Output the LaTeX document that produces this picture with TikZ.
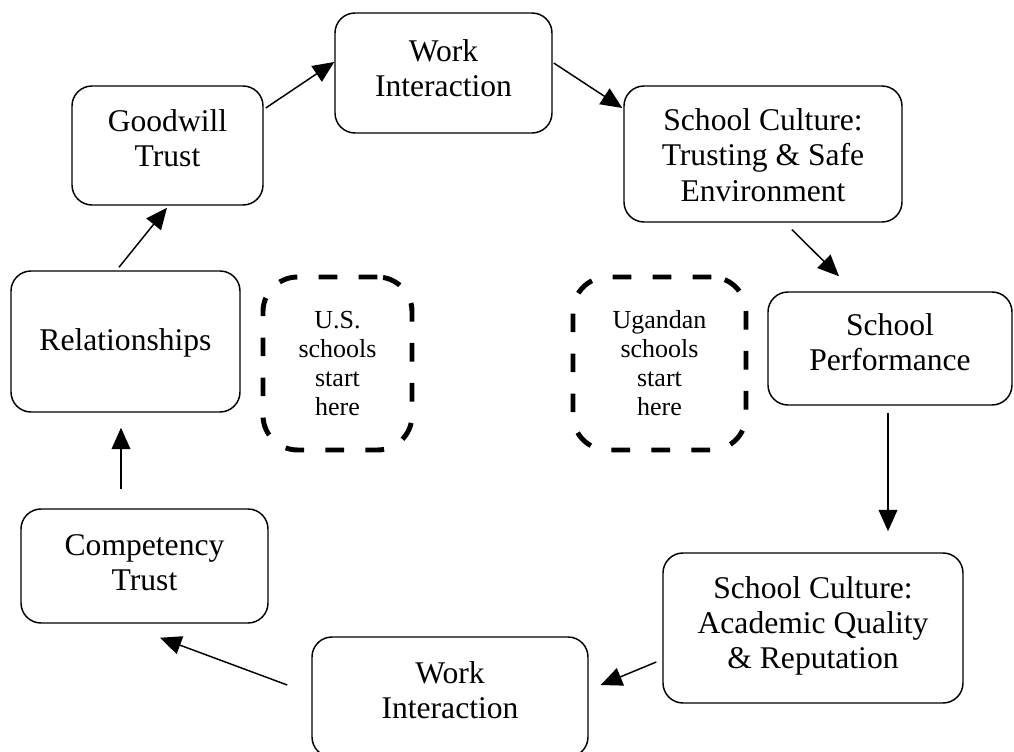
\documentclass[tikz,border=0pt]{standalone}
\usepackage{fontspec}
\setmainfont{Liberation Serif}
\usetikzlibrary{arrows.meta,calc}
\tikzset{
  box/.style={draw, line width=1.1pt, rounded corners=15pt, inner sep=0pt},
  boxtext/.style={align=center, inner sep=0pt, font=\fontsize{23.7}{26.5}\selectfont},
  startbox/.style={draw, line width=3.7pt, rounded corners=26pt, align=center, inner sep=0pt,
    dash pattern=on 14pt off 16pt, font=\fontsize{19.5}{21.75}\selectfont},
  arr/.style={line width=1.1pt, -{Triangle[length=16pt,width=14pt]}}
}
\begin{document}
\begin{tikzpicture}[x=0.75pt,y=-0.75pt]
\useasboundingbox (0,0) rectangle (1014,752);
\node[box, minimum width=217*0.75pt, minimum height=120*0.75pt] (work1) at (443.5,73) {};
\node[boxtext] (work1t) at ($(work1)+(0,-5)$) {Work\\Interaction};
\node[box, minimum width=191*0.75pt, minimum height=119*0.75pt] (good) at (167.5,145.5) {};
\node[boxtext] (goodt) at ($(good)+(0,-7)$) {Goodwill\\Trust};
\node[box, minimum width=278*0.75pt, minimum height=136*0.75pt] (cult1) at (763,154) {};
\node[boxtext] (cult1t) at ($(cult1)+(0,1)$) {School Culture:\\Trusting \& Safe\\Environment};
\node[box, minimum width=244*0.75pt, minimum height=113*0.75pt] (perf) at (890,348.5) {};
\node[boxtext] (perft) at ($(perf)+(0,-6.5)$) {School\\Performance};
\node[box, minimum width=300*0.75pt, minimum height=150*0.75pt] (acad) at (813,628) {};
\node[boxtext] (acadt) at ($(acad)+(0,-2)$) {School Culture:\\Academic Quality\\\& Reputation};
\node[box, minimum width=276*0.75pt, minimum height=120*0.75pt] (work2) at (450,697) {};
\node[boxtext] (work2t) at ($(work2)+(0,-7)$) {Work\\Interaction};
\node[box, minimum width=247*0.75pt, minimum height=114*0.75pt] (comp) at (144.5,566) {};
\node[boxtext] (compt) at ($(comp)+(0,-3.5)$) {Competency\\Trust};
\node[box, minimum width=229*0.75pt, minimum height=141*0.75pt] (rel) at (125.5,341.5) {};
\node[boxtext] (relt) at ($(rel)+(0,1)$) {Relationships};
\node[startbox, minimum width=149*0.75pt, minimum height=173*0.75pt] (us) at (337.5,363.5) {U.S.\\schools\\start\\here};
\node[startbox, minimum width=173*0.75pt, minimum height=173*0.75pt] (ug) at (659.5,363.5) {Ugandan\\schools\\start\\here};

\draw[arr] ($(rel.north)+(-6.5,-3)$) -- ($(good.south)+(-0.5,2)$);
\draw[arr] ($(good.east)+(2,-37.5)$) -- ($(work1.west)+(0,-11)$);
\draw[arr] ($(work1.east)+(1,-10)$) -- ($(cult1.west)+(-1,-46)$);
\draw[arr] ($(cult1.south)+(29,7)$) -- ($(perf.north)+(-51,-15)$);
\draw[arr] ($(perf.south)+(-2,7)$) -- ($(acad.north)+(75,-21)$);
\draw[arr] ($(acad.west)+(-6,34)$) -- ($(work2.east)+(12,-12)$);
\draw[arr] ($(work2.west)+(-24,-12)$) -- ($(comp.south)+(15.5,14)$);
\draw[arr] ($(comp.north)+(-23.5,-19)$) -- ($(rel.south)+(-4.5,15)$);
\end{tikzpicture}
\end{document}
